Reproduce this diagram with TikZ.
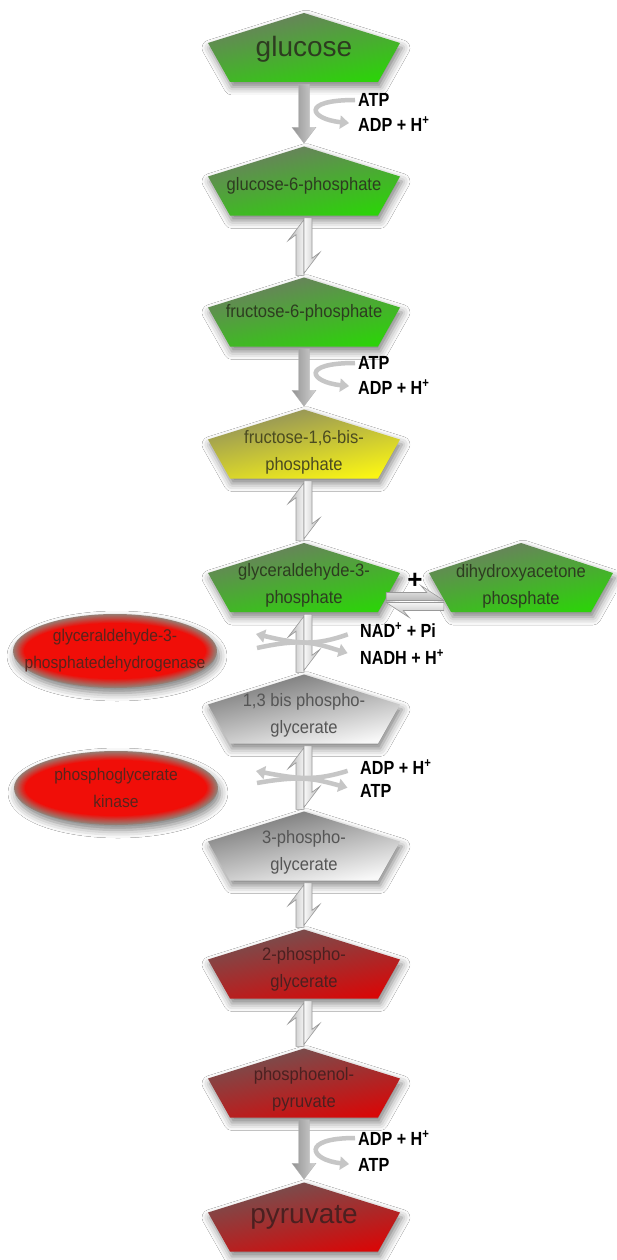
\documentclass[tikz,border=0pt]{standalone}
\usepackage{fontspec}
\setmainfont{Liberation Sans}
\newfontfamily\nf{Liberation Sans}[FakeStretch=0.92]
\newfontfamily\lf{Liberation Sans}[FakeStretch=0.85]
\usetikzlibrary{calc,arrows.meta,shadows.blur}

\definecolor{gtop}{RGB}{110,122,100}
\definecolor{gbot}{RGB}{45,210,10}
\definecolor{ytop}{RGB}{140,140,95}
\definecolor{ybot}{RGB}{250,245,20}
\definecolor{wtop}{RGB}{115,115,115}
\definecolor{wbot}{RGB}{248,248,248}
\definecolor{rtop}{RGB}{110,85,85}
\definecolor{rbot}{RGB}{215,8,8}
\definecolor{gtxt}{RGB}{45,60,32}
\definecolor{ytxt}{RGB}{75,75,32}
\definecolor{wtxt}{RGB}{85,85,85}
\definecolor{rtxt}{RGB}{75,32,32}
\definecolor{etxt}{RGB}{88,36,28}
\definecolor{enzin}{RGB}{240,14,8}
\definecolor{enzout}{RGB}{150,125,115}

\tikzset{
  shad/.style={blur shadow={shadow xshift=2pt, shadow yshift=-5pt, shadow blur radius=8pt, shadow opacity=50}},
  pnode/.style={inner sep=0pt, minimum width=192pt, minimum height=69pt},
  ptext/.style={font=\nf\fontsize{18}{27}\selectfont, align=center, inner sep=0pt},
  lbl/.style={font=\lf\bfseries\fontsize{19}{22}\selectfont, anchor=west, inner sep=0pt, text=black},
  shaft/.style={left color=gray!85, right color=gray!35, draw=gray!60, line width=0.3pt},
  harpl/.style={left color=gray!60, right color=gray!8, draw=gray!80, line width=0.6pt},
  harpr/.style={left color=gray!5, right color=gray!55, draw=gray!80, line width=0.6pt},
  harpt/.style={top color=gray!8, bottom color=gray!55, draw=gray!80, line width=0.6pt},
  side/.style={draw=gray!45, line width=4.5pt, -{Triangle[width=13pt,length=9pt]}},
  etext/.style={font=\nf\fontsize{17}{27}\selectfont, align=center, text=etxt, inner sep=0pt},
}

% name, cx, cy, half width, top colour, bottom colour, text colour, text dy, text
\newcommand\penta[9]{%
  \path[shad, top color=#5, bottom color=#6, shading angle=12]
    (#2,#3) ++(0,-34.5) -- ++(#4,30) -- ++(-22,39) -- ++({-2*(#4-22)},0) -- ++(-22,-39) -- cycle;
  \node[pnode] (#1) at (#2,#3) {};
  \node[ptext, text=#7] (#1t) at (#2,#3+#8) {#9};
}
% name, cx, cy, text
\newcommand\enzyme[4]{%
  \fill[shad, enzout] (#2,#3) ellipse [x radius=102, y radius=37];
  \foreach \i in {1,...,12}{%
    \pgfmathtruncatemacro\pc{min(100,\i*100/10)}%
    \fill[enzin!\pc!enzout] (#2,#3) ellipse [x radius={102-1.1*\i}, y radius={37-0.9*\i}];
  }
  \node[etext] (#1) at (#2,#3) {#4};
}
\newcommand\irrev[2]{%
  \path[shaft] ($(#1.south)+(-5.5,2)$) -- ($(#2.north)+(-5.5,-19)$) -- ($(#2.north)+(-12,-19)$)
    -- ($(#2.north)+(0,-3)$) -- ($(#2.north)+(12,-19)$) -- ($(#2.north)+(5.5,-19)$)
    -- ($(#1.south)+(5.5,2)$) -- cycle;
}
\newcommand\rev[2]{%
  \path[harpl] ($(#1.south)+(0,4)$) -- ($(#1.south)+(-16,25)$) -- ($(#1.south)+(-8,19)$)
    -- ($(#2.north)+(-8,-2)$) -- ($(#2.north)+(0,-2)$) -- cycle;
  \path[harpr] ($(#1.south)+(0,2)$) -- ($(#1.south)+(8,2)$) -- ($(#2.north)+(8,-19)$)
    -- ($(#2.north)+(16,-25)$) -- ($(#2.north)+(0,-4)$) -- cycle;
}

\begin{document}
\begin{tikzpicture}[x=1pt,y=-1pt]
\useasboundingbox (0,0) rectangle (616,1260);
\fill[white] (0,0) rectangle (616,1260);

% substrates
\penta{glc}{304}{47.5}{96}{gtop}{gbot}{gtxt}{2}{\rmfamily\fontsize{28}{30}\selectfont glucose}
\penta{gsp}{304}{181}{96}{gtop}{gbot}{gtxt}{5}{glucose-6-phosphate}
\penta{fsp}{304}{312}{96}{gtop}{gbot}{gtxt}{1}{fructose-6-phosphate}
\penta{fbp}{304}{444}{96}{ytop}{ybot}{ytxt}{8}{fructose-1,6-bis-\\phosphate}
\penta{gap}{304}{577.5}{96}{gtop}{gbot}{gtxt}{8}{glyceraldehyde-3-\\phosphate}
\penta{dhap}{521}{577.5}{92}{gtop}{gbot}{gtxt}{9}{dihydroxyacetone\\phosphate}
\penta{bpg}{304}{709}{96}{wtop}{wbot}{wtxt}{6}{1,3 bis phospho-\\glycerate}
\penta{tpg}{304}{846}{96}{wtop}{wbot}{wtxt}{6.5}{3-phospho-\\glycerate}
\penta{dpg}{304}{964}{96}{rtop}{rbot}{rtxt}{5}{2-phospho-\\glycerate}
\penta{pep}{304}{1083}{96}{rtop}{rbot}{rtxt}{6}{phosphoenol-\\pyruvate}
\penta{pyr}{304}{1217}{96}{rtop}{rbot}{rtxt}{0}{\rmfamily\fontsize{28}{30}\selectfont pyruvate}

% enzymes
\enzyme{gapdh}{115}{651}{glyceraldehyde-3-\\phosphatedehydrogenase}
\enzyme{pgk}{116}{788}{phosphoglycerate\\kinase}

% main arrows
\irrev{glc}{gsp}
\rev{gsp}{fsp}
\irrev{fsp}{fbp}
\rev{fbp}{gap}
\rev{gap}{bpg}
\rev{bpg}{tpg}
\rev{tpg}{dpg}
\rev{dpg}{pep}
\irrev{pep}{pyr}

% GAP <-> DHAP
\coordinate (hl) at ($(gap.east)+(-14,24)$);
\coordinate (hr) at ($(dhap.west)+(19,24)$);
\path[harpt] ($(hl)+(0,-1)$) -- ($(hl)+(0,-9)$) -- ($(hr)+(-17,-9)$) -- ($(hr)+(-23,-16)$) -- ($(hr)+(0,-1)$) -- cycle;
\path[harpt] ($(hr)+(0,1)$) -- ($(hr)+(0,9)$) -- ($(hl)+(17,9)$) -- ($(hl)+(23,16)$) -- ($(hl)+(0,1)$) -- cycle;
\node[font=\bfseries\fontsize{26}{28}\selectfont, inner sep=0pt] (plus) at (415,581) {+};

% cofactor labels
\node[lbl] (atpa) at (358,100) {ATP};
\node[lbl] (adpa) at (358,124) {ADP + H\textsuperscript{+}};
\node[lbl] (atpb) at (358,363) {ATP};
\node[lbl] (adpb) at (358,387) {ADP + H\textsuperscript{+}};
\node[lbl] (nad) at (360,630) {NAD\textsuperscript{+} + Pi};
\node[lbl] (nadh) at (360,657) {NADH + H\textsuperscript{+}};
\node[lbl] (adpc) at (360,767) {ADP + H\textsuperscript{+}};
\node[lbl] (atpc) at (360,791) {ATP};
\node[lbl] (adpd) at (358,1138) {ADP + H\textsuperscript{+}};
\node[lbl] (atpd) at (358,1165) {ATP};

% side arrows (irreversible steps)
\draw[side, shorten <=3pt, shorten >=9pt] (atpa.west) .. controls +(-58,0) and +(-48,-5) .. (adpa.west);
\draw[side, shorten <=3pt, shorten >=9pt] (atpb.west) .. controls +(-58,0) and +(-48,-5) .. (adpb.west);
\draw[side, shorten <=3pt, shorten >=9pt] (adpd.west) .. controls +(-58,0) and +(-48,-5) .. (atpd.west);

% crossing side arrows (reversible steps)
\coordinate (cla) at (256,634);
\coordinate (clb) at (257,648);
\draw[side, shorten <=13pt] (nad.west) .. controls +(-45,16) and +(42,10) .. (cla);
\draw[side, shorten >=13pt] (clb) .. controls +(45,-10) and +(-45,-14) .. (nadh.west);
\coordinate (clc) at (256,771);
\coordinate (cld) at (257,783);
\draw[side, shorten <=13pt] (adpc.west) .. controls +(-45,14) and +(42,8) .. (clc);
\draw[side, shorten >=13pt] (cld) .. controls +(45,-8) and +(-45,-12) .. (atpc.west);
\end{tikzpicture}
\end{document}
